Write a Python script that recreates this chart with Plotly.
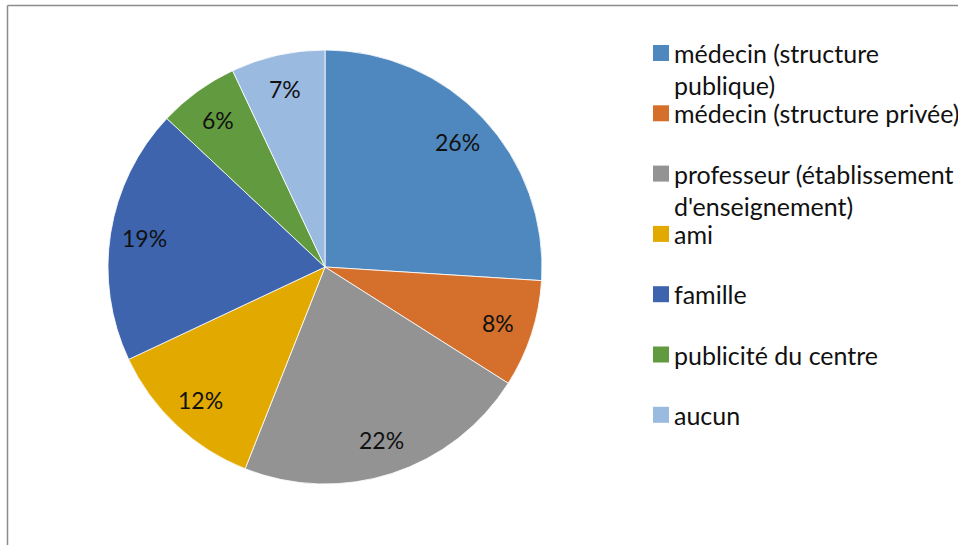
import math
import plotly.graph_objects as go

categories = ["médecin (structure publique)", "médecin (structure privée)",
              "professeur (établissement d'enseignement)", "ami", "famille",
              "publicité du centre", "aucun"]
legend_lines = [["médecin (structure", "publique)"], ["médecin (structure privée)"],
                ["professeur (établissement", "d'enseignement)"], ["ami"], ["famille"],
                ["publicité du centre"], ["aucun"]]
values = [26, 8, 22, 12, 19, 6, 7]
colors = ["#4F88BE", "#D4702C", "#939393", "#E2A900", "#3D64AD", "#629A3F", "#9BBAE0"]

W, H = 958, 545
FONT = "Lato"
cx, cy, R = 325, 267, 217

fig = go.Figure()
fig.add_trace(go.Pie(
    labels=categories, values=values, sort=False, direction="clockwise", rotation=0,
    marker=dict(colors=colors, line=dict(color="white", width=0.8)),
    textinfo="none", hoverinfo="label+percent", showlegend=False,
    domain=dict(x=[(cx - R) / W, (cx + R) / W], y=[1 - (cy + R) / H, 1 - (cy - R) / H]),
))

annotations = []
total = sum(values)
cum = 0
for v in values:
    mid = (cum + v / 2) / total * 2 * math.pi
    cum += v
    r = 0.84 * R
    x = cx + r * math.sin(mid)
    y = cy - r * math.cos(mid)
    annotations.append(dict(x=x / W, y=1 - y / H, xref="paper", yref="paper",
                            xanchor="center", yanchor="middle",
                            text=f"{round(v / total * 100)}%", showarrow=False,
                            font=dict(family=FONT, size=23, color="#111111")))

shapes = [
    dict(type="line", xref="paper", yref="paper", x0=7.5 / W, x1=1.0,
         y0=1 - 5.5 / H, y1=1 - 5.5 / H, line=dict(color="#8C8C8C", width=1.5)),
    dict(type="line", xref="paper", yref="paper", x0=7.5 / W, x1=7.5 / W,
         y0=0, y1=1 - 5.5 / H, line=dict(color="#8C8C8C", width=1.5)),
]

# manual legend
ly0, step, lgap = 53, 60.3, 32
for i, (lines, c) in enumerate(zip(legend_lines, colors)):
    yc = ly0 + step * i
    shapes.append(dict(type="rect", xref="paper", yref="paper",
                       x0=653 / W, x1=669 / W, y0=1 - (yc + 8) / H, y1=1 - (yc - 8) / H,
                       fillcolor=c, line=dict(width=0)))
    for j, t in enumerate(lines):
        annotations.append(dict(x=672 / W, y=1 - (yc + j * lgap) / H, xref="paper", yref="paper",
                                xanchor="left", yanchor="middle", text=t, showarrow=False,
                                font=dict(family=FONT, size=25, color="#111111")))

fig.update_layout(width=W, height=H, margin=dict(l=0, r=0, t=0, b=0),
                  paper_bgcolor="white", plot_bgcolor="white",
                  annotations=annotations, shapes=shapes)
fig.write_html("out.html", config={"displayModeBar": False},
               post_script="document.body.style.margin='0';document.body.style.overflow='hidden';")
